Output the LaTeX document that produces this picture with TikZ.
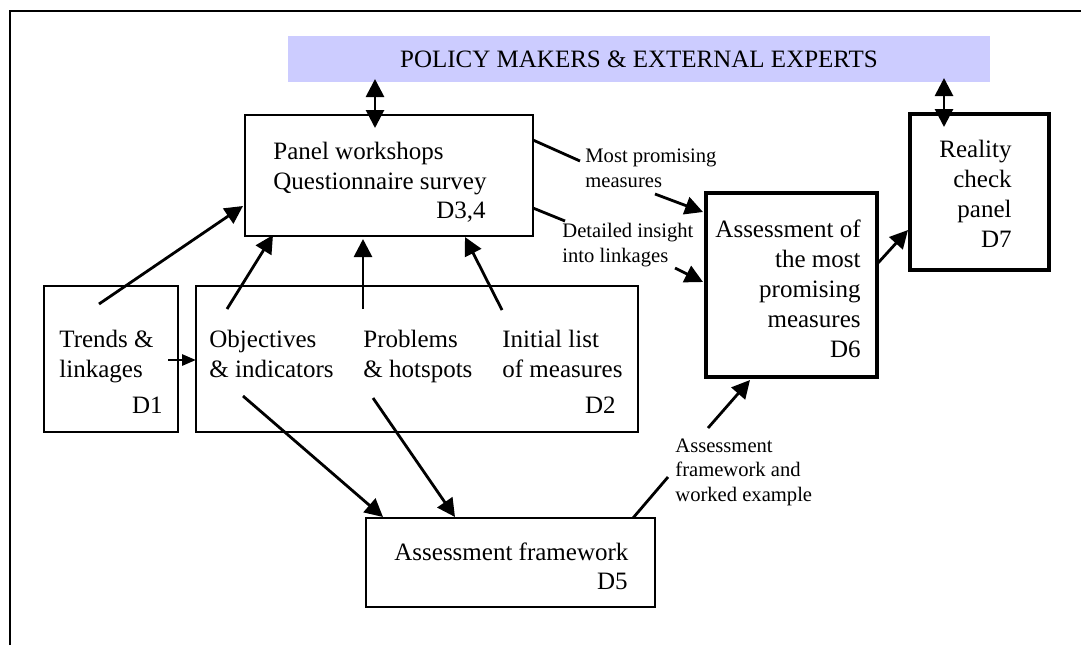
\documentclass[tikz,border=0pt]{standalone}
\usepackage{fontspec}
\setmainfont{Liberation Serif}
\usetikzlibrary{arrows.meta}
\definecolor{panelblue}{RGB}{204,204,255}

\begin{document}
\begin{tikzpicture}[x=0.5pt, y=-0.5pt,
    box/.style={rectangle, draw, line width=0.6pt, inner sep=0pt, outer sep=0pt},
    thickbox/.style={box, line width=1.6pt},
    txt/.style={font=\fontsize{12.5}{15}\selectfont, inner sep=0pt},
    note/.style={font=\fontsize{10.3}{12.25}\selectfont, inner sep=0pt, align=left},
    link/.style={line width=1.4pt},
    arr/.style={link, -{Triangle[length=9pt, width=9pt]}},
    smallarr/.style={link, -{Triangle[length=7pt, width=5.5pt]}},
    dblarr/.style={link, {Triangle[length=9pt, width=9pt]}-{Triangle[length=9pt, width=9pt]}}]
    \useasboundingbox (0,0) rectangle (1081,645);
    \draw[line width=0.6pt] (10,645) -- (10,11) -- (1081,11);

    \node[rectangle, fill=panelblue, inner sep=0pt, outer sep=0pt, minimum width=351pt, minimum height=23pt, txt] (pm) at (639,59) {POLICY MAKERS \& EXTERNAL EXPERTS};

    \node[box, minimum width=144pt, minimum height=60.5pt] (d34) at (389,175.5) {};
    \node[box, minimum width=67pt, minimum height=73pt] (d1) at (111,359) {};
    \node[box, minimum width=221pt, minimum height=73pt] (d2) at (417,359) {};
    \node[box, minimum width=144.5pt, minimum height=44.5pt] (d5) at (510.5,562.5) {};
    \node[thickbox, minimum width=85.5pt, minimum height=92pt] (d6) at (791.5,285) {};
    \node[thickbox, minimum width=69.5pt, minimum height=78pt] (d7) at (979.5,192) {};

    % base of a multi-line node is its last line
    \node[txt, align=left, anchor=base west] (panel) at (273,189) {Panel workshops\\Questionnaire survey};
    \node[txt, anchor=base east] (d34no) at (486,218) {D3,4};
    \node[txt, align=left, anchor=base west] (trends) at (59,377) {Trends \&\\linkages};
    \node[txt, anchor=base east] (d1no) at (163,413) {D1};
    \node[txt, align=left, anchor=base west] (objectives) at (209,377) {Objectives\\\& indicators};
    \node[txt, align=left, anchor=base west] (problems) at (363,377) {Problems\\\& hotspots};
    \node[txt, align=left, anchor=base west] (initial) at (502,377) {Initial list\\of measures};
    \node[txt, anchor=base east] (d2no) at (616,413) {D2};
    \node[txt, anchor=base west] (framework) at (394,560) {Assessment framework};
    \node[txt, anchor=base east] (d5no) at (628,589) {D5};
    \node[txt, align=right, anchor=base east] (assess) at (861,357) {Assessment of\\the most\\promising\\measures\\D6};
    \node[txt, align=right, anchor=base east] (reality) at (1012,247) {Reality\\check\\panel\\D7};

    \node[note, anchor=base west] (mp) at (585,187) {Most promising\\measures};
    \node[note, anchor=base west] (di) at (562,262) {Detailed insight\\into linkages};
    \node[note, anchor=base west] (af) at (675,501) {Assessment\\framework and\\worked example};

    \draw[dblarr] ([shift={(87,-3)}]pm.south west) -- ([shift={(130,13)}]d34.north west);
    \draw[dblarr] ([shift={(656,-4)}]pm.south west) -- ([shift={(34,13)}]d7.north west);

    \draw[arr] ([shift={(55,18)}]d1.north west) -- ([shift={(-2,-30)}]d34.south west);
    \draw[arr] ([shift={(31,23)}]d2.north west) -- ([shift={(28,-1)}]d34.south west);
    \draw[arr] ([shift={(167,23)}]d2.north west) -- ([shift={(118,3)}]d34.south west);
    \draw[arr] ([shift={(306,24)}]d2.north west) -- ([shift={(220,1)}]d34.south west);
    \draw[smallarr] ([shift={(-10,74)}]d1.north east) -- ([shift={(0,74)}]d2.north west);

    \draw[arr] ([shift={(47,110)}]d2.north west) -- ([shift={(17,-1)}]d5.north west);
    \draw[arr] ([shift={(177,112)}]d2.north west) -- ([shift={(89,-1)}]d5.north west);

    \draw[link] ([shift={(0,25)}]d34.north east) -- ([shift={(-5,-26)}]mp.base west);
    \draw[arr] ([shift={(70,7)}]mp.base west) -- ([shift={(-3,19)}]d6.north west);
    \draw[link] ([shift={(0,93)}]d34.north east) -- ([shift={(3,-41)}]di.base west);
    \draw[arr] ([shift={(113,6)}]di.base west) -- ([shift={(-3,89)}]d6.north west);
    \draw[link] ([shift={(-22,0)}]d5.north east) -- ([shift={(-7,-24)}]af.base west);
    \draw[arr] ([shift={(33,-73)}]af.base west) -- ([shift={(44,3)}]d6.south west);
    \draw[arr] ([shift={(1,70)}]d6.north east) -- ([shift={(-2,116)}]d7.north west);
\end{tikzpicture}
\end{document}
